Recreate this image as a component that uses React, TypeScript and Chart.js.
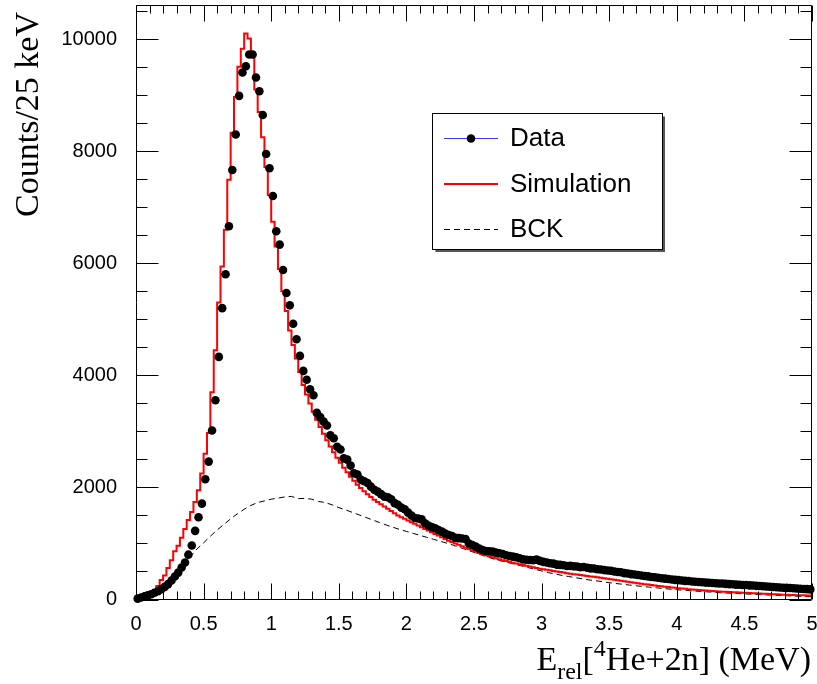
import React, { useEffect, useRef } from "react";
import { Chart, registerables } from "chart.js";

Chart.register(...registerables);

// ---- data (counts per 25 keV bin, 200 bins from 0 to 5 MeV) ----
const binWidth = 0.025;
const dataCounts = [
  15, 35, 55, 75, 95, 120, 150, 185, 225, 275,
  340, 410, 480, 570, 660, 800, 965, 1225, 1467, 1711,
  2146, 2461, 3015, 3557, 4330, 5200, 5804, 6661, 7666, 8298,
  8988, 9405, 9518, 9727, 9727, 9316, 9071, 8648, 7952, 7696,
  7202, 6571, 6334, 5880, 5470, 5250, 4920, 4646, 4348, 4080,
  3922, 3752, 3645, 3330, 3255, 3175, 3105, 2930, 2878, 2725,
  2676, 2518, 2497, 2390, 2254, 2230, 2140, 2110, 2080, 2014,
  1960, 1925, 1880, 1836, 1825, 1790, 1720, 1690, 1640, 1611,
  1550, 1500, 1455, 1445, 1430, 1360, 1320, 1291, 1271, 1240,
  1211, 1175, 1150, 1134, 1100, 1095, 1090, 1080, 1000, 973,
  943, 910, 884, 866, 860, 854, 836, 825, 813, 790,
  777, 765, 754, 735, 717, 710, 705, 700, 712, 690,
  672, 660, 648, 640, 622, 618, 610, 598, 600, 592,
  588, 575, 580, 566, 555, 552, 540, 536, 525, 518,
  512, 500, 492, 485, 470, 465, 452, 445, 436, 428,
  420, 412, 402, 398, 388, 380, 372, 366, 358, 350,
  345, 340, 332, 330, 322, 318, 312, 308, 302, 298,
  295, 290, 286, 285, 278, 275, 272, 266, 262, 260,
  258, 252, 250, 244, 240, 236, 232, 228, 222, 218,
  215, 210, 208, 204, 200, 196, 192, 188, 185, 180,
];

const simCounts = [
  10, 20, 35, 55, 80, 110, 170, 240, 350, 430,
  560, 700, 860, 960, 1100, 1260, 1420, 1560, 1740, 1950,
  2250, 2600, 2970, 3700, 4450, 5300, 5943, 6600, 7490, 8330,
  8970, 9510, 9830, 10100, 10010, 9700, 9100, 8700, 8250, 7720,
  7220, 6740, 6300, 5900, 5500, 5150, 4800, 4540, 4300, 4060,
  3830, 3660, 3500, 3350, 3210, 3080, 2960, 2840, 2730, 2630,
  2530, 2440, 2350, 2270, 2190, 2120, 2050, 1990, 1930, 1880,
  1830, 1780, 1740, 1700, 1660, 1620, 1580, 1540, 1500, 1470,
  1440, 1410, 1380, 1350, 1320, 1290, 1260, 1230, 1200, 1170,
  1140, 1110, 1080, 1050, 1025, 1000, 975, 950, 925, 900,
  875, 852, 830, 810, 790, 770, 752, 735, 718, 702,
  688, 672, 658, 644, 630, 616, 602, 588, 575, 562,
  550, 540, 530, 520, 510, 500, 490, 480, 470, 460,
  452, 444, 436, 428, 420, 412, 404, 396, 388, 380,
  372, 362, 352, 343, 334, 325, 316, 307, 298, 290,
  282, 274, 266, 258, 250, 242, 235, 228, 221, 214,
  208, 202, 196, 190, 185, 180, 175, 170, 165, 160,
  156, 152, 148, 144, 140, 137, 134, 131, 128, 125,
  122, 119, 116, 113, 110, 107, 104, 101, 98, 95,
  92, 89, 86, 84, 82, 80, 78, 76, 74, 72,
];

// background curve sampled every 50 keV from 0 to 5 MeV
const bckStep = 0.05;
const bckCounts = [
  0, 15, 50, 120, 220, 340, 480, 620, 760, 900,
  1010, 1130, 1240, 1340, 1440, 1530, 1610, 1680, 1730, 1760,
  1790, 1810, 1830, 1840, 1800, 1805, 1790, 1750, 1730, 1690,
  1640, 1600, 1555, 1510, 1465, 1420, 1375, 1330, 1290, 1250,
  1215, 1180, 1145, 1110, 1075, 1040, 1005, 965, 925, 885,
  840, 800, 760, 720, 690, 660, 630, 600, 570, 540,
  510, 480, 455, 430, 410, 390, 370, 350, 335, 318,
  300, 285, 272, 258, 245, 232, 220, 208, 196, 185,
  175, 166, 157, 148, 140, 132, 125, 118, 112, 106,
  100, 94, 88, 83, 78, 73, 68, 63, 58, 53,
  48,
];

const xMin = 0;
const xMax = 5;
const yMax = 10610;
const xTickValues = [0, 0.5, 1, 1.5, 2, 2.5, 3, 3.5, 4, 4.5, 5];
const xTickLabels = ["0", "0.5", "1", "1.5", "2", "2.5", "3", "3.5", "4", "4.5", "5"];
const yTickValues = [0, 2000, 4000, 6000, 8000, 10000];
const yTickLabels = ["0", "2000", "4000", "6000", "8000", "10000"];
const legendLabels = ["Data", "Simulation", "BCK"];
const yTitle = "Counts/25 keV";

const rootStylePlugin = {
  id: "rootStyle",
  afterDraw(chart: any) {
    const { ctx, chartArea: ca, scales } = chart;
    const xs = scales.x;
    const ys = scales.y;
    const L = Math.round(ca.left) + 0.5;
    const R = Math.round(ca.right) - 0.5;
    const T = Math.round(ca.top) + 0.5;
    const B = Math.round(ca.bottom) - 0.5;
    ctx.save();
    ctx.strokeStyle = "#000";
    ctx.lineWidth = 1;
    ctx.setLineDash([]);
    // frame
    ctx.beginPath();
    ctx.rect(L, T, R - L, B - T);
    ctx.stroke();
    // x ticks (bottom and top, inside)
    ctx.beginPath();
    for (let k = 0; k <= 50; k++) {
      const px = Math.round(xs.getPixelForValue(k / 10)) + 0.5;
      const len = k % 5 === 0 ? 16 : 8;
      ctx.moveTo(px, B);
      ctx.lineTo(px, B - len);
      ctx.moveTo(px, T);
      ctx.lineTo(px, T + len);
    }
    // y ticks (left and right, inside)
    for (let k = 0; k * 500 <= yMax; k++) {
      const py = Math.round(ys.getPixelForValue(k * 500)) + 0.5;
      const len = k % 4 === 0 ? 22 : 11;
      ctx.moveTo(L, py);
      ctx.lineTo(L + len, py);
      ctx.moveTo(R, py);
      ctx.lineTo(R - len, py);
    }
    ctx.stroke();

    // y title
    ctx.fillStyle = "#000";
    ctx.font = '34px "Liberation Serif", "Times New Roman", serif';
    ctx.save();
    ctx.translate(38, 12);
    ctx.rotate(-Math.PI / 2);
    ctx.textAlign = "right";
    ctx.textBaseline = "alphabetic";
    ctx.fillText(yTitle, 0, 0);
    ctx.restore();

    // x title with subscript / superscript
    const big = 34;
    const small = 24;
    const parts = [
      { t: "E", s: big, dy: 0 },
      { t: "rel", s: small, dy: 9 },
      { t: "[", s: big, dy: 0 },
      { t: "4", s: small, dy: -14 },
      { t: "He+2n] (MeV)", s: big, dy: 0 },
    ];
    let total = 0;
    const widths: number[] = [];
    for (const p of parts) {
      ctx.font = `${p.s}px "Liberation Serif", "Times New Roman", serif`;
      const w = ctx.measureText(p.t).width;
      widths.push(w);
      total += w;
    }
    let cx = 811 - total;
    const baseY = 670;
    ctx.textAlign = "left";
    ctx.textBaseline = "alphabetic";
    parts.forEach((p, i) => {
      ctx.font = `${p.s}px "Liberation Serif", "Times New Roman", serif`;
      ctx.fillText(p.t, cx, baseY + p.dy);
      cx += widths[i];
    });

    // legend
    const bx = 432.5, by = 113.5, bw = 230, bh = 136;
    ctx.fillStyle = "#fff";
    ctx.fillRect(bx, by, bw, bh);
    ctx.strokeStyle = "#555";
    ctx.lineWidth = 2;
    ctx.beginPath();
    ctx.moveTo(bx + 3, by + bh + 1.5);
    ctx.lineTo(bx + bw + 1.5, by + bh + 1.5);
    ctx.lineTo(bx + bw + 1.5, by + 3);
    ctx.stroke();
    ctx.strokeStyle = "#000";
    ctx.lineWidth = 1;
    ctx.strokeRect(bx, by, bw, bh);
    const rows = [138, 184, 229];
    const x0 = 444, x1 = 498;
    // Data
    ctx.strokeStyle = "#3a3aff";
    ctx.lineWidth = 1;
    ctx.beginPath();
    ctx.moveTo(x0, rows[0] + 0.5);
    ctx.lineTo(x1, rows[0] + 0.5);
    ctx.stroke();
    ctx.fillStyle = "#000";
    ctx.beginPath();
    ctx.arc(471, rows[0] + 0.5, 4.3, 0, Math.PI * 2);
    ctx.fill();
    // Simulation
    ctx.strokeStyle = "#ff0000";
    ctx.lineWidth = 2;
    ctx.beginPath();
    ctx.moveTo(x0, rows[1]);
    ctx.lineTo(x1, rows[1]);
    ctx.stroke();
    // BCK
    ctx.strokeStyle = "#000";
    ctx.lineWidth = 1;
    ctx.setLineDash([6, 4]);
    ctx.beginPath();
    ctx.moveTo(x0, rows[2] + 0.5);
    ctx.lineTo(x1, rows[2] + 0.5);
    ctx.stroke();
    ctx.setLineDash([]);
    ctx.fillStyle = "#000";
    ctx.font = '26px "Liberation Sans", Arial, sans-serif';
    ctx.textAlign = "left";
    ctx.textBaseline = "middle";
    legendLabels.forEach((lab, i) => ctx.fillText(lab, 510, rows[i] + 1));
    ctx.restore();
  },
};

export default function App() {
  const canvasRef = useRef<HTMLCanvasElement | null>(null);

  useEffect(() => {
    const canvas = canvasRef.current;
    if (!canvas) return;
    const dataPts = dataCounts.map((v, i) => ({ x: binWidth * (i + 0.5), y: v }));
    const simPts = simCounts.map((v, i) => ({ x: binWidth * i, y: v }));
    simPts.push({ x: binWidth * simCounts.length, y: simCounts[simCounts.length - 1] });
    const bckPts = bckCounts.map((v, i) => ({ x: bckStep * i, y: v }));
    const tickFont = { family: '"Liberation Sans", Arial, sans-serif', size: 20 };

    const chart = new Chart(canvas, {
      type: "line",
      data: {
        datasets: [
          {
            label: legendLabels[0],
            data: dataPts,
            showLine: false,
            pointRadius: 4.3,
            pointBackgroundColor: "#000",
            pointBorderWidth: 0,
            pointBorderColor: "#000",
            borderColor: "#3a3aff",
            clip: 10,
          },
          {
            label: legendLabels[1],
            data: simPts,
            borderColor: "#ff0000",
            borderWidth: 2,
            pointRadius: 0,
            stepped: "after",
            fill: false,
            clip: 2,
          },
          {
            label: legendLabels[2],
            data: bckPts,
            borderColor: "#000",
            borderWidth: 1,
            borderDash: [6, 4],
            pointRadius: 0,
            fill: false,
            tension: 0,
          },
        ],
      },
      options: {
        responsive: false,
        animation: false,
        layout: { padding: { top: 5, right: 5, left: 0, bottom: 0 } },
        plugins: { legend: { display: false }, tooltip: { enabled: false } },
        scales: {
          x: {
            type: "linear",
            min: xMin,
            max: xMax,
            grid: { display: false, drawTicks: false },
            border: { display: false },
            afterBuildTicks: (s: any) => {
              s.ticks = xTickValues.map((v) => ({ value: v }));
            },
            ticks: {
              padding: 13,
              maxRotation: 0,
              minRotation: 0,
              autoSkip: false,
              color: "#000",
              font: tickFont,
              callback: (v: any) => {
                const idx = xTickValues.indexOf(Number(v));
                return idx >= 0 ? xTickLabels[idx] : "";
              },
            },
            afterFit: (s: any) => {
              s.height = 84.5;
              s.paddingLeft = 0;
              s.paddingRight = 0;
            },
          },
          y: {
            type: "linear",
            min: 0,
            max: yMax,
            grid: { display: false, drawTicks: false },
            border: { display: false },
            afterBuildTicks: (s: any) => {
              s.ticks = yTickValues.map((v) => ({ value: v }));
            },
            ticks: {
              padding: 19,
              autoSkip: false,
              color: "#000",
              font: tickFont,
              callback: (v: any) => {
                const idx = yTickValues.indexOf(Number(v));
                return idx >= 0 ? yTickLabels[idx] : "";
              },
            },
            afterFit: (s: any) => {
              s.width = 136;
              s.paddingTop = 0;
              s.paddingBottom = 0;
            },
          },
        },
      },
      plugins: [rootStylePlugin],
    });
    return () => chart.destroy();
  }, []);

  return (
    <div style={{ position: "fixed", left: 0, top: 0, width: 817, height: 684, background: "#fff" }}>
      <canvas ref={canvasRef} width={817} height={684} style={{ display: "block" }} />
    </div>
  );
}
